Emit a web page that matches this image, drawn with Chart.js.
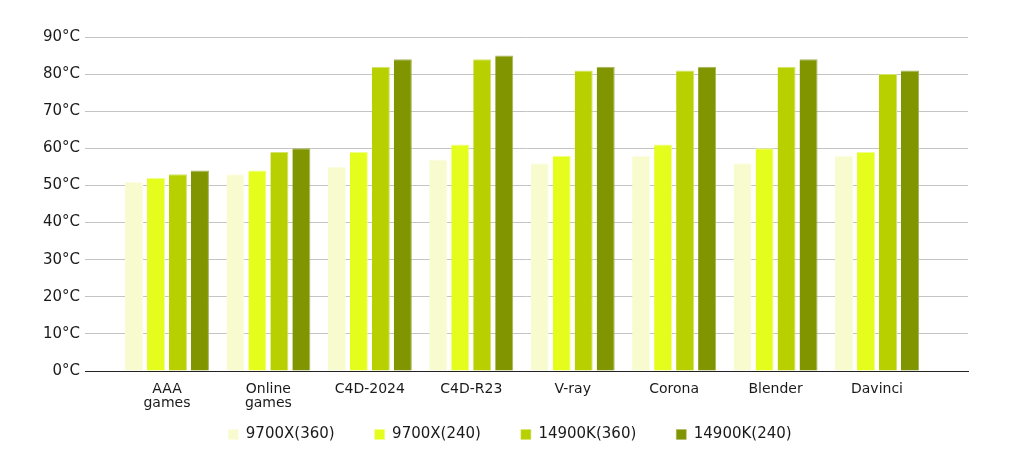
<!DOCTYPE html>
<html>
<head>
<meta charset="utf-8">
<title>Temperaturas</title>
<script src="https://cdn.jsdelivr.net/npm/chart.js@4/dist/chart.umd.min.js"></script>
<style>
  html, body { margin: 0; padding: 0; background: #ffffff; }
  #caixa { width: 1020px; height: 464px; }
</style>
</head>
<body>
<div id="caixa"><canvas id="graficoTemperaturas"></canvas></div>
<script>
// Categorias do eixo X (arrays = rótulo em duas linhas)
const categorias = [
  ["AAA", "games"], ["Online", "games"], "C4D-2024", "C4D-R23",
  "V-ray", "Corona", "Blender", "Davinci",
];

// Séries (°C)
const serie9700x360  = [51, 53, 55, 57, 56, 58, 56, 58];
const serie9700x240  = [52, 54, 59, 61, 58, 61, 60, 59];
const serie14900k360 = [53, 59, 82, 84, 81, 81, 82, 80];
const serie14900k240 = [54, 60, 84, 85, 82, 82, 84, 81];

const nomesSeries = ["9700X(360)", "9700X(240)", "14900K(360)", "14900K(240)"];

// Ticks do eixo Y
const ticksY = [0, 10, 20, 30, 40, 50, 60, 70, 80, 90];

const CORES  = ["#f8fbcd", "#e5fd1c", "#b9d000", "#819500"];
const BORDAS = ["#fbfde3", "#effe86", "#d3e36b", "#a6b560"];
const FONTE  = "'DejaVu Sans', sans-serif";

const series = [serie9700x360, serie9700x240, serie14900k360, serie14900k240];

// Legenda: altura fixa, centrada no canvas inteiro e deslocada para cima
// (o padding de 40 serve só para o espaçamento horizontal entre itens)
const ajusteLegenda = {
  id: "ajusteLegenda",
  beforeInit(chart) {
    const fitOriginal = chart.legend.fit;
    chart.legend.fit = function () {
      fitOriginal.call(this);
      this.height = 43;
    };
  },
  afterLayout(chart) {
    chart.legend.top   = 387;
    chart.legend.left  = 0;
    chart.legend.right = chart.width;
  },
};

new Chart(document.getElementById("graficoTemperaturas"), {
  type: "bar",
  data: {
    datasets: series.map((valores, s) => ({
      label:           nomesSeries[s],
      data:            valores.map((v, i) => ({ x: i, y: v })),
      backgroundColor: CORES[s],
      borderColor:     BORDAS[s],
      borderWidth:     { top: 1, right: 1, left: 0, bottom: 0 },
      borderSkipped:   "bottom",
      categoryPercentage: 0.867,
      barPercentage:      0.82,
    })),
  },
  plugins: [ajusteLegenda],
  options: {
    responsive:          true,
    maintainAspectRatio: false,
    animation:           false,
    layout: { padding: { top: 37, right: 52, bottom: 0, left: 0 } },
    plugins: {
      legend: {
        position: "bottom",
        labels: {
          color:     "#1a1a1a",
          font:      { family: FONTE, size: 15 },
          boxWidth:  10,
          boxHeight: 10,
          padding:   40,
        },
      },
      tooltip: { enabled: false },
    },
    scales: {
      x: {
        type:   "linear",
        offset: false,
        min:    -0.808,
        max:    7.897,
        afterBuildTicks: escala => {
          escala.ticks = categorias.map((_, i) => ({ value: i }));
        },
        afterFit: escala => { escala.height = 50; },
        ticks: {
          color:       "#1a1a1a",
          font:        { family: FONTE, size: 14, lineHeight: 1.0 },
          padding:     3,
          maxRotation: 0,
          autoSkip:    false,
          callback:    v => categorias[v],
        },
        grid:   { display: false, offset: false },
        border: { display: true, color: "#222222", width: 1 },
      },
      y: {
        min: 0,
        max: 90,
        afterBuildTicks: escala => {
          escala.ticks = ticksY.map(v => ({ value: v }));
        },
        afterFit: escala => { escala.width = 85; },
        ticks: {
          color:    "#1a1a1a",
          font:     { family: FONTE, size: 15 },
          padding:  5,
          callback: v => v + "°C",
        },
        grid:   { color: "#c4c4c4", lineWidth: 1, drawTicks: false },
        border: { display: false },
      },
    },
  },
});
</script>
</body>
</html>
